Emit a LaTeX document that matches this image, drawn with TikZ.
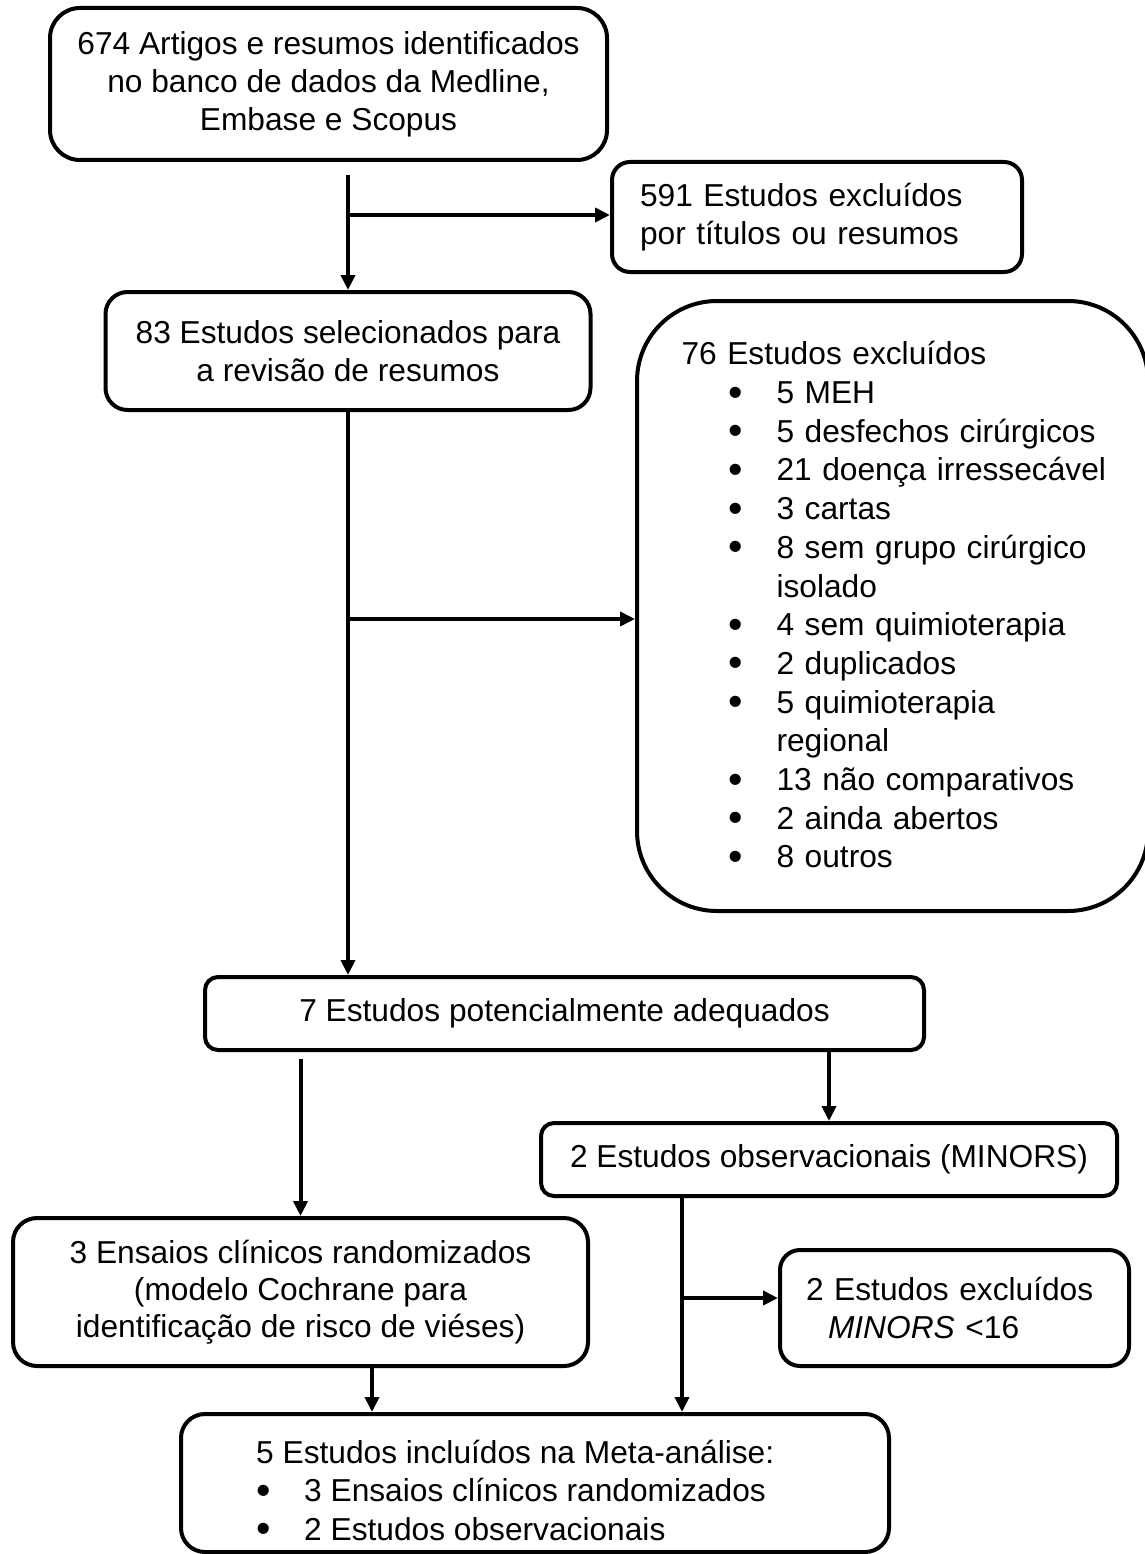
\documentclass[tikz,border=0pt]{standalone}
\usepackage{fontspec}
\setmainfont{Liberation Sans}
\usetikzlibrary{shapes,arrows.meta,calc}

\newcommand{\bola}{\raisebox{-2.5pt}{\scalebox{1.3}{\textbullet}}}
\newcommand{\bitem}[1]{\mbox{\hspace*{47pt}\makebox[48pt][l]{\bola}#1}}
\newcommand{\bcont}[1]{\mbox{\hspace*{95pt}#1}}

\begin{document}
\begin{tikzpicture}[x=1pt,y=-1pt]
        \tikzstyle{caixa}=[rectangle,draw,line width=4pt,inner sep=0pt,align=center,font=\fontsize{31.7pt}{38pt}\selectfont]
        \tikzstyle{esq}=[align=left]
        \tikzstyle{seta}=[-{Triangle[length=15pt,width=14pt]},line width=4pt]
        \useasboundingbox (0,0) rectangle (1144,1554);
        \node[caixa,rounded corners=30pt,minimum width=557pt,minimum height=152pt] (artigos) at (328.5,84) {674 Artigos e resumos identificados\\no banco de dados da Medline,\\Embase e Scopus};
        \node[caixa,esq,rounded corners=18pt,minimum width=410pt,minimum height=110pt,text width=354pt,inner xsep=28pt] (exc1) at (817,217) {591 Estudos excluídos\\por títulos ou resumos};
        \node[caixa,rounded corners=22pt,minimum width=485pt,minimum height=118pt] (sel) at (348,351) {83 Estudos selecionados para\\a revisão de resumos};
        \node[caixa,esq,rounded corners=80pt,minimum width=511pt,minimum height=610pt,text width=422pt,inner xsep=44.5pt,font=\fontsize{31.7pt}{38.7pt}\selectfont] (exc2) at (892.5,606) {76 Estudos excluídos\\
                \bitem{5 MEH}\\
                \bitem{5 desfechos cirúrgicos}\\
                \bitem{21 doença irressecável}\\
                \bitem{3 cartas}\\
                \bitem{8 sem grupo cirúrgico}\\
                \bcont{isolado}\\
                \bitem{4 sem quimioterapia}\\
                \bitem{2 duplicados}\\
                \bitem{5 quimioterapia}\\
                \bcont{regional}\\
                \bitem{13 não comparativos}\\
                \bitem{2 ainda abertos}\\
                \bitem{8 outros}};
        \node[caixa,rounded corners=13pt,minimum width=719pt,minimum height=73pt] (pot) at (564.5,1013.5) {7 Estudos potencialmente adequados};
        \node[caixa,rounded corners=13pt,minimum width=576pt,minimum height=73pt] (obs) at (829,1159.5) {2 Estudos observacionais (MINORS)};
        \node[caixa,rounded corners=24pt,minimum width=575pt,minimum height=148pt,font=\fontsize{31.7pt}{37pt}\selectfont] (ens) at (300.5,1292) {3 Ensaios clínicos randomizados\\(modelo Cochrane para\\identificação de risco de viéses)};
        \node[caixa,esq,rounded corners=20pt,minimum width=349pt,minimum height=116pt,text width=297pt,inner xsep=26pt] (minors) at (954.5,1308) {2 Estudos excluídos\\\hspace*{22pt}\textit{MINORS} <16};
        \node[caixa,rounded corners=24pt,minimum width=708pt,minimum height=138pt] (incl) at (535,1483) {};
        \node[esq,inner sep=0pt,anchor=west,font=\fontsize{31.7pt}{38.5pt}\selectfont] (incltxt) at (256,1491.5) {5 Estudos incluídos na Meta-análise:\\
                \mbox{\makebox[48pt][l]{\bola}3 Ensaios clínicos randomizados}\\
                \mbox{\makebox[48pt][l]{\bola}2 Estudos observacionais}};
        \coordinate (a0) at ($(artigos.south -| sel.north)+(0,13)$);
        \coordinate (a1) at ($(a0)+(0,40)$);
        \draw[seta] (a0) -- (sel.north);
        \draw[seta] (a1) -- (a1 -| exc1.west);
        \coordinate (b1) at ($(sel.south)+(0,207)$);
        \draw[seta] (sel.south) -- (sel.south |- pot.north);
        \draw[seta] (b1) -- (b1 -| exc2.west);
        \coordinate (c0) at ($(pot.south -| ens.north)+(0,7)$);
        \draw[seta] (c0) -- (ens.north);
        \draw[seta] (pot.south -| obs.north) -- (obs.north);
        \coordinate (e0) at ($(obs.south west)+(143,0)$);
        \coordinate (e1) at ($(e0)+(0,100)$);
        \draw[seta] (e0) -- (e0 |- incl.north);
        \draw[seta] (e1) -- (e1 -| minors.west);
        \coordinate (f0) at ($(ens.south)+(71.5,0)$);
        \draw[seta] (f0) -- (f0 |- incl.north);
\end{tikzpicture}
\end{document}
